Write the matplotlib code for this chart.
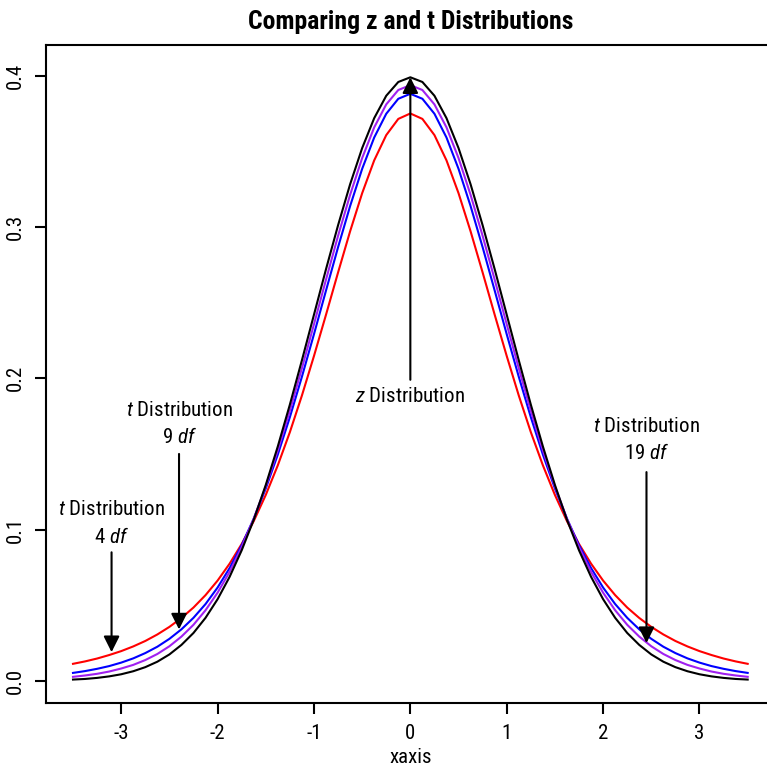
import matplotlib
matplotlib.use('Agg')
import matplotlib.pyplot as plt
from matplotlib import font_manager

# narrow sans if we have one (the original looks like Helvetica Narrow)
names = {f.name for f in font_manager.fontManager.ttflist}
FONT = 'Liberation Sans'
for cand in ['Liberation Sans Narrow', 'Roboto Condensed', 'Open Sans Condensed', 'DejaVu Sans Condensed']:
    if cand in names:
        FONT = cand
        break
plt.rcParams['font.family'] = [FONT, 'DejaVu Sans']
plt.rcParams['mathtext.fontset'] = 'custom'
plt.rcParams['mathtext.it'] = FONT + ':italic'
plt.rcParams['mathtext.rm'] = FONT

# values
xaxis = [-3.5, -3.375, -3.25, -3.125, -3.0, -2.875, -2.75, -2.625, -2.5, -2.375, -2.25, -2.125,
         -2.0, -1.875, -1.75, -1.625, -1.5, -1.375, -1.25, -1.125, -1.0, -0.875, -0.75, -0.625,
         -0.5, -0.375, -0.25, -0.125, 0.0, 0.125, 0.25, 0.375, 0.5, 0.625, 0.75, 0.875,
         1.0, 1.125, 1.25, 1.375, 1.5, 1.625, 1.75, 1.875, 2.0, 2.125, 2.25, 2.375,
         2.5, 2.625, 2.75, 2.875, 3.0, 3.125, 3.25, 3.375, 3.5]
z_dens = [0.0009, 0.0013, 0.0020, 0.0030, 0.0044, 0.0064, 0.0091, 0.0127, 0.0175, 0.0238,
          0.0317, 0.0417, 0.0540, 0.0688, 0.0863, 0.1065, 0.1295, 0.1550, 0.1826, 0.2119,
          0.2420, 0.2721, 0.3011, 0.3282, 0.3521, 0.3719, 0.3867, 0.3958, 0.3989,
          0.3958, 0.3867, 0.3719, 0.3521, 0.3282, 0.3011, 0.2721, 0.2420, 0.2119, 0.1826,
          0.1550, 0.1295, 0.1065, 0.0863, 0.0688, 0.0540, 0.0417, 0.0317, 0.0238, 0.0175,
          0.0127, 0.0091, 0.0064, 0.0044, 0.0030, 0.0020, 0.0013, 0.0009]
t4_dens = [0.0113, 0.0129, 0.0148, 0.0171, 0.0197, 0.0228, 0.0264, 0.0307, 0.0357, 0.0416,
           0.0485, 0.0567, 0.0663, 0.0775, 0.0905, 0.1056, 0.1229, 0.1425, 0.1644, 0.1886,
           0.2147, 0.2420, 0.2699, 0.2971, 0.3223, 0.3440, 0.3607, 0.3714, 0.3750,
           0.3714, 0.3607, 0.3440, 0.3223, 0.2971, 0.2699, 0.2420, 0.2147, 0.1886, 0.1644,
           0.1425, 0.1229, 0.1056, 0.0905, 0.0775, 0.0663, 0.0567, 0.0485, 0.0416, 0.0357,
           0.0307, 0.0264, 0.0228, 0.0197, 0.0171, 0.0148, 0.0129, 0.0113]
t9_dens = [0.0053, 0.0065, 0.0080, 0.0098, 0.0121, 0.0149, 0.0184, 0.0226, 0.0278, 0.0341,
           0.0417, 0.0508, 0.0617, 0.0746, 0.0897, 0.1072, 0.1272, 0.1496, 0.1743, 0.2010,
           0.2291, 0.2580, 0.2866, 0.3138, 0.3384, 0.3591, 0.3748, 0.3847, 0.3880,
           0.3847, 0.3748, 0.3591, 0.3384, 0.3138, 0.2866, 0.2580, 0.2291, 0.2010, 0.1743,
           0.1496, 0.1272, 0.1072, 0.0897, 0.0746, 0.0617, 0.0508, 0.0417, 0.0341, 0.0278,
           0.0226, 0.0184, 0.0149, 0.0121, 0.0098, 0.0080, 0.0065, 0.0053]
t19_dens = [0.0027, 0.0036, 0.0047, 0.0062, 0.0082, 0.0106, 0.0138, 0.0178, 0.0229, 0.0293,
            0.0371, 0.0467, 0.0583, 0.0721, 0.0884, 0.1072, 0.1286, 0.1525, 0.1786, 0.2066,
            0.2357, 0.2652, 0.2941, 0.3212, 0.3455, 0.3658, 0.3810, 0.3905, 0.3937,
            0.3905, 0.3810, 0.3658, 0.3455, 0.3212, 0.2941, 0.2652, 0.2357, 0.2066, 0.1786,
            0.1525, 0.1286, 0.1072, 0.0884, 0.0721, 0.0583, 0.0467, 0.0371, 0.0293, 0.0229,
            0.0178, 0.0138, 0.0106, 0.0082, 0.0062, 0.0047, 0.0036, 0.0027]

# annotations: label, arrow tip (x, y), arrow tail y, label y
labels = [r'$\mathit{z}$ Distribution',
          '$\\mathit{t}$ Distribution\n9 $\\mathit{df}$',
          '$\\mathit{t}$ Distribution\n4 $\\mathit{df}$',
          '$\\mathit{t}$ Distribution\n19 $\\mathit{df}$']
tip_x = [0.0, -2.4, -3.1, 2.45]
tip_y = [0.3989, 0.034, 0.019, 0.025]
tail_y = [0.199, 0.150, 0.085, 0.138]
label_y = [0.188, 0.170, 0.104, 0.159]

fig = plt.figure(figsize=(7.67, 7.69), dpi=100)
ax = fig.add_axes([0.060, 0.086, 0.950, 0.856])

ax.plot(xaxis, t4_dens, color='red', lw=1.5)
ax.plot(xaxis, t9_dens, color='blue', lw=1.5)
ax.plot(xaxis, t19_dens, color='#A020F0', lw=1.5)
ax.plot(xaxis, z_dens, color='black', lw=1.5)

for lab, tx, ty, sy, ly in zip(labels, tip_x, tip_y, tail_y, label_y):
    ax.annotate('', xy=(tx, ty), xytext=(tx, sy),
                arrowprops=dict(arrowstyle='-|>', color='black', lw=1.5,
                                mutation_scale=24, shrinkA=0, shrinkB=0))
    ax.text(tx, ly, lab, ha='center', va='center', fontsize=15, linespacing=1.45)

ax.set_xlim(-3.78, 3.78)
ax.set_ylim(-0.0145, 0.4205)
ax.set_xticks([-3, -2, -1, 0, 1, 2, 3])
ax.set_xticklabels(['-3', '-2', '-1', '0', '1', '2', '3'])
ax.set_yticks([0.0, 0.1, 0.2, 0.3, 0.4])
ax.set_yticklabels(['0.0', '0.1', '0.2', '0.3', '0.4'], rotation=90, va='center')
ax.tick_params(direction='out', length=8, width=1.5, labelsize=15, pad=7)
for side in ['left', 'bottom', 'top', 'right']:
    ax.spines[side].set_linewidth(1.5)

ax.set_xlabel('xaxis', fontsize=15, labelpad=4)
ax.set_title('Comparing z and t Distributions', fontsize=18.5, fontweight='bold', pad=11)

fig.savefig('out.png', dpi=100)
